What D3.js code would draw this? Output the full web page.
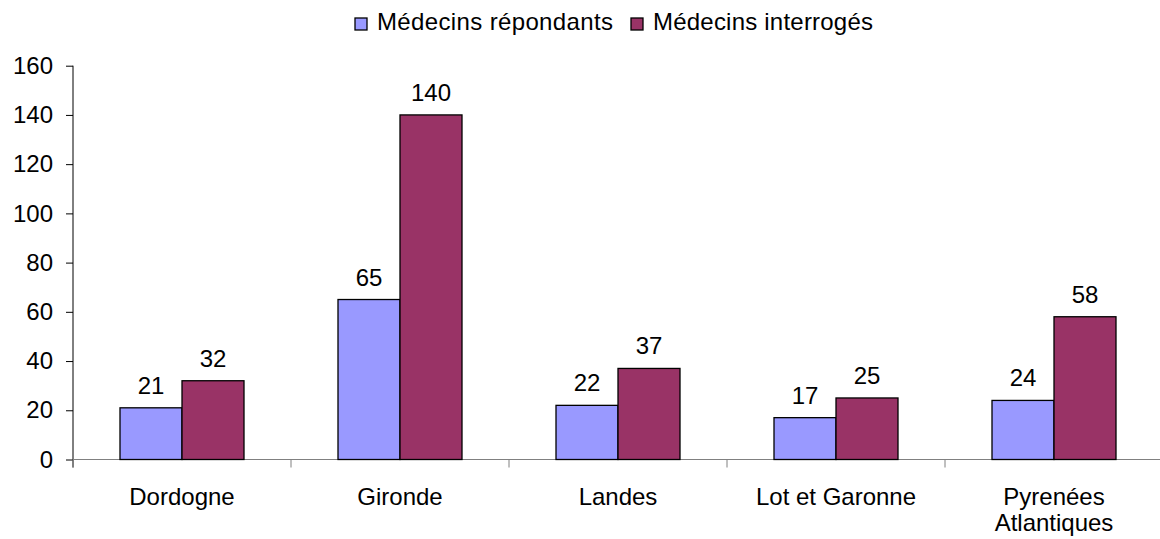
<!DOCTYPE html>
<html><head><meta charset="utf-8">
<script src="https://cdn.jsdelivr.net/npm/d3@7"></script>
<style>body{margin:0;background:#fff}svg{display:block}text{font-family:"Liberation Sans",Arial,sans-serif;fill:#000}</style>
</head><body>
<script>
const categories = ["Dordogne","Gironde","Landes","Lot et Garonne","Pyrenées\nAtlantiques"];
const seriesNames = ["Médecins répondants","Médecins interrogés"];
const repondants = [21,65,22,17,24];
const interroges = [32,140,37,25,58];
const yTicks = [0,20,40,60,80,100,120,140,160];
const colors = ["#9999FF","#993366"];

(function(){
const W=1160,H=539;
const svg=d3.select("body").append("svg").attr("width",W).attr("height",H);
const pLeft=73, pRight=1163, pTop=65.7, pBottom=459.5;
const fs=24;

const x0=d3.scaleBand().domain(categories).range([pLeft,pRight]).padding(0);
const x1=d3.scaleBand().domain([0,1]).range([47,171]).padding(0);
const y=d3.scaleLinear().domain([0,160]).range([pBottom,pTop]);

// y axis
const ya=svg.append("g").attr("transform",`translate(${pLeft},0)`)
  .call(d3.axisLeft(y).tickValues(yTicks).tickSize(7).tickPadding(13));
ya.select(".domain").attr("stroke","#000").attr("d",`M0,${pTop}V${pBottom+8}`);
ya.selectAll(".tick line").attr("stroke","#000");
ya.selectAll("text").style("font-size",fs+"px").style("font-family","Liberation Sans, Arial, sans-serif").attr("fill","#000");

// x baseline
const xa=svg.append("g").attr("transform",`translate(0,${pBottom})`)
  .call(d3.axisBottom(x0).tickSize(0).tickFormat(""));
xa.select(".domain").attr("stroke","#808080").attr("d",`M${pLeft},0H${pRight}`);
const bounds=categories.map(c=>x0(c)).concat([pRight]);
svg.append("g").selectAll("line").data(bounds).join("line")
  .attr("x1",d=>d).attr("x2",d=>d).attr("y1",pBottom).attr("y2",pBottom+8).attr("stroke","#808080");

// x labels
categories.forEach(c=>{
  const lines=c.split("\n");
  const cx=x0(c)+x0.bandwidth()/2;
  const t=svg.append("text").attr("text-anchor","middle").style("font-size",fs+"px")
    .attr("x",cx).attr("y",505);
  lines.forEach((l,i)=>t.append("tspan").attr("x",cx).attr("dy",i?25.5:0).text(l));
});

// bars
const data=[repondants,interroges];
data.forEach((vals,s)=>{
  const g=svg.append("g");
  g.selectAll("rect").data(vals).join("rect")
    .attr("x",(d,i)=>x0(categories[i])+x1(s))
    .attr("y",d=>y(d)).attr("width",x1.bandwidth()).attr("height",d=>pBottom-y(d))
    .attr("fill",colors[s]).attr("stroke","#000").attr("stroke-width",1.3);
  g.selectAll("text").data(vals).join("text")
    .attr("x",(d,i)=>x0(categories[i])+x1(s)+x1.bandwidth()/2)
    .attr("y",d=>y(d)-14).attr("text-anchor","middle").style("font-size",fs+"px").text(d=>d);
});

// legend
const leg=svg.append("g");
const lx=[355,631];
seriesNames.forEach((n,i)=>{
  leg.append("rect").attr("x",lx[i]).attr("y",18).attr("width",12).attr("height",12)
    .attr("fill",colors[i]).attr("stroke","#000").attr("stroke-width",1.3);
  leg.append("text").attr("x",lx[i]+22).attr("y",30).style("font-size",fs+"px").attr("textLength",i?220:236).text(n);
});
})();
</script>
</body></html>
